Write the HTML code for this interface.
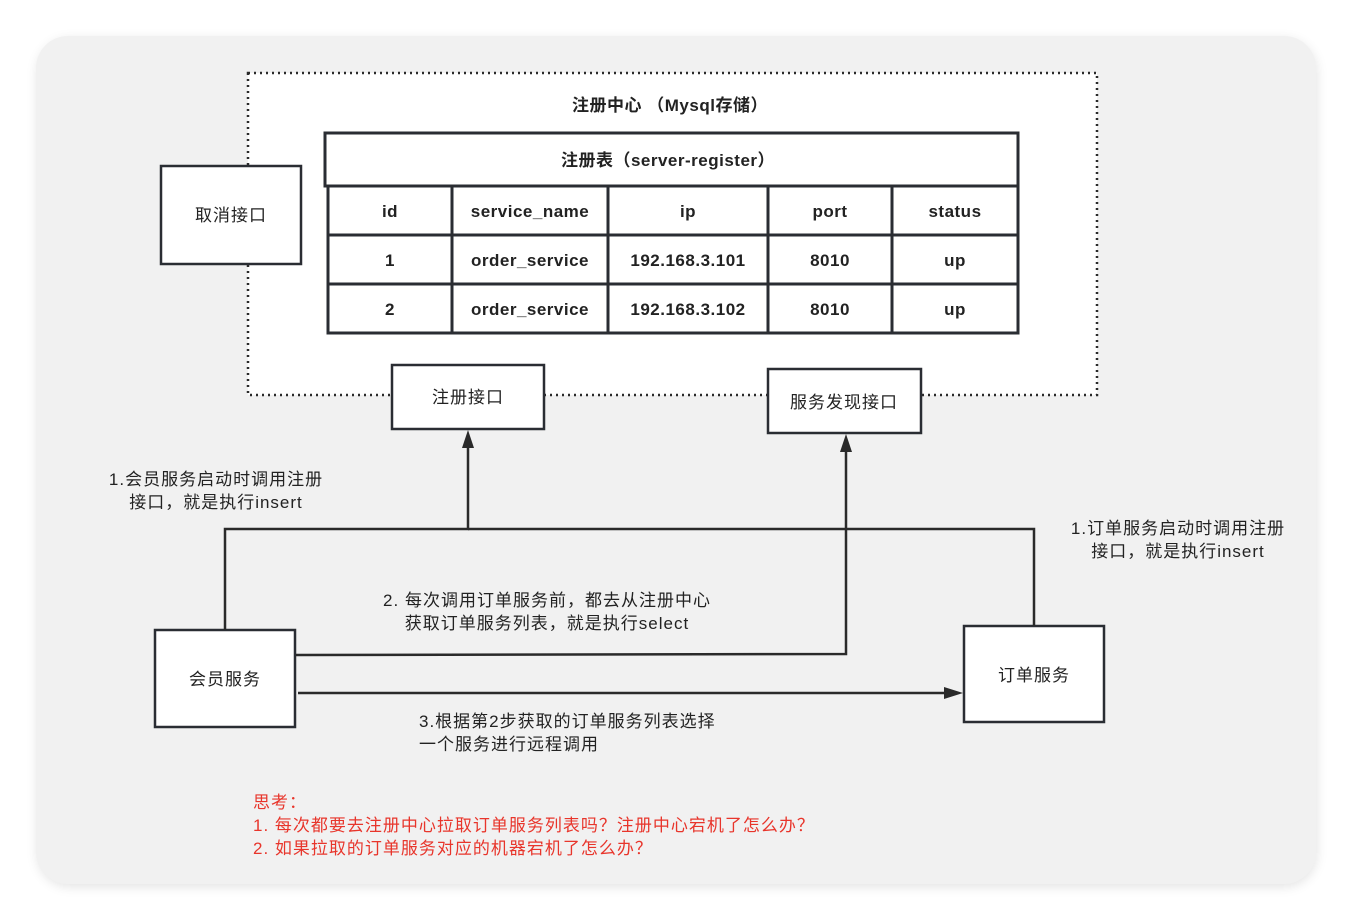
<!DOCTYPE html>
<html><head><meta charset="utf-8"><style>
html,body{margin:0;padding:0;background:#fff;}
svg{display:block;}
text{font-family:"Liberation Sans","Noto Sans CJK SC",sans-serif;fill:#222;}
</style></head><body>
<svg width="1352" height="920" viewBox="0 0 1352 920" xmlns="http://www.w3.org/2000/svg">
<defs>
<filter id="sh" x="-5%" y="-5%" width="110%" height="110%"><feGaussianBlur stdDeviation="6"/></filter>
</defs>
<rect x="38" y="40" width="1278" height="846" rx="32" fill="#000" opacity="0.12" filter="url(#sh)"/>
<rect x="36" y="36" width="1280" height="848" rx="32" fill="#f1f1f1"/>
<rect x="248" y="73" width="849" height="322" fill="#fff" stroke="#2a2a2a" stroke-width="2.5" stroke-dasharray="2,4"/>
<text x="670" y="111" font-size="17" font-weight="bold" text-anchor="middle" letter-spacing="0.5">注册中心 （Mysql存储）</text>
<g stroke="#2a2d33" stroke-width="3" fill="#fff">
<rect x="325" y="133" width="693" height="53"/>
<rect x="328" y="186" width="690" height="147"/>
<line x1="328" y1="235" x2="1018" y2="235"/>
<line x1="328" y1="284" x2="1018" y2="284"/>
<line x1="452" y1="186" x2="452" y2="333"/>
<line x1="608" y1="186" x2="608" y2="333"/>
<line x1="768" y1="186" x2="768" y2="333"/>
<line x1="892" y1="186" x2="892" y2="333"/>
</g>
<g font-size="17" font-weight="bold" text-anchor="middle" letter-spacing="0.5">
<text x="668" y="166">注册表（server-register）</text>
<text x="390" y="217">id</text><text x="530" y="217">service_name</text><text x="688" y="217">ip</text><text x="830" y="217">port</text><text x="955" y="217">status</text>
<text x="390" y="266">1</text><text x="530" y="266">order_service</text><text x="688" y="266">192.168.3.101</text><text x="830" y="266">8010</text><text x="955" y="266">up</text>
<text x="390" y="315">2</text><text x="530" y="315">order_service</text><text x="688" y="315">192.168.3.102</text><text x="830" y="315">8010</text><text x="955" y="315">up</text>
</g>
<g stroke="#2a2d33" stroke-width="2.5" fill="#fff">
<rect x="161" y="166" width="140" height="98"/>
<rect x="392" y="365" width="152" height="64"/>
<rect x="768" y="369" width="153" height="64"/>
<rect x="155" y="630" width="140" height="97"/>
<rect x="964" y="626" width="140" height="96"/>
</g>
<g font-size="17" text-anchor="middle" letter-spacing="1">
<text x="231" y="221">取消接口</text>
<text x="468" y="403">注册接口</text>
<text x="844" y="408">服务发现接口</text>
<text x="225" y="685">会员服务</text>
<text x="1034" y="681">订单服务</text>
</g>
<g stroke="#2a2a2a" stroke-width="2.5" fill="none">
<polyline points="225,630 225,529 468,529 468,446"/>
<polyline points="468,529 1034,529 1034,626"/>
<polyline points="296,655 846,654 846,450"/>
<line x1="298" y1="693" x2="946" y2="693"/>
</g>
<path d="M462,448 L468,430 L474,448 z" fill="#2a2a2a"/>
<path d="M840,452 L846,434 L852,452 z" fill="#2a2a2a"/>
<path d="M944,687 L963,693 L944,699 z" fill="#2a2a2a"/>
<g font-size="17" letter-spacing="1" fill="#333">
<text x="216" y="485" text-anchor="middle">1.会员服务启动时调用注册</text>
<text x="216" y="508" text-anchor="middle">接口，就是执行insert</text>
<text x="1178" y="534" text-anchor="middle">1.订单服务启动时调用注册</text>
<text x="1178" y="557" text-anchor="middle">接口，就是执行insert</text>
<text x="547" y="606" text-anchor="middle">2. 每次调用订单服务前，都去从注册中心</text>
<text x="547" y="629" text-anchor="middle">获取订单服务列表，就是执行select</text>
<text x="419" y="727">3.根据第2步获取的订单服务列表选择</text>
<text x="419" y="750">一个服务进行远程调用</text>
</g>
<g font-size="17" letter-spacing="1">
<text x="253" y="808" style="fill:#e8352b">思考：</text>
<text x="253" y="831" style="fill:#e8352b">1. 每次都要去注册中心拉取订单服务列表吗？注册中心宕机了怎么办？</text>
<text x="253" y="854" style="fill:#e8352b">2.  如果拉取的订单服务对应的机器宕机了怎么办？</text>
</g>
</svg>
</body></html>
